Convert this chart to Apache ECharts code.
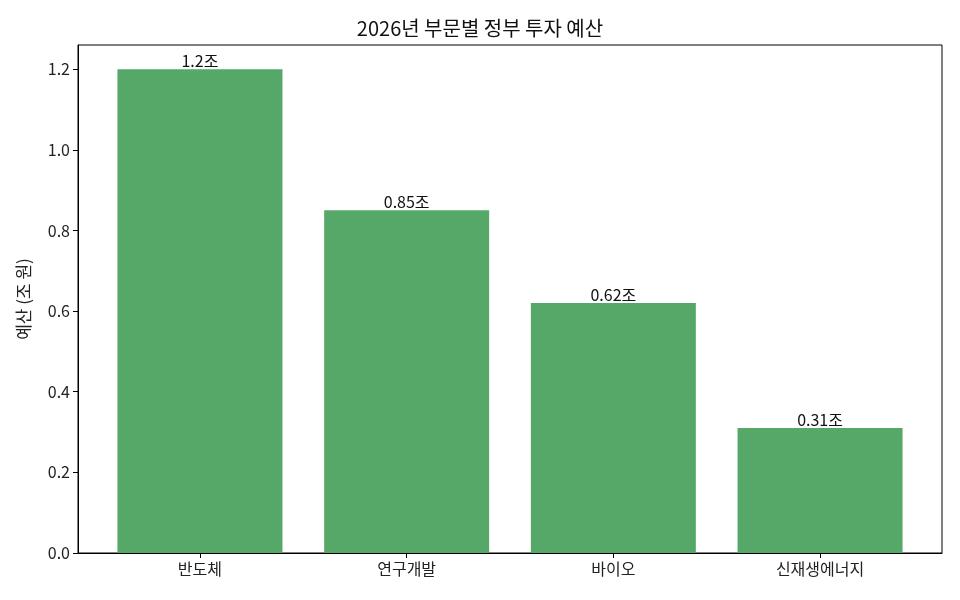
<!DOCTYPE html>
<html><head><meta charset="utf-8">
<script src="https://cdn.jsdelivr.net/npm/echarts@6/dist/echarts.min.js"></script>
<style>html,body{margin:0;padding:0;background:#fff}#c{width:960px;height:600px}</style>
</head><body><div id="c"></div>
<script>
const categories = ['반도체', '연구개발', '바이오', '신재생에너지'];
const values = [1.2, 0.85, 0.62, 0.31];
const yTicks = [0, 0.2, 0.4, 0.6, 0.8, 1.0, 1.2];
const title = '2026년 부문별 정부 투자 예산';
const yName = '예산 (조 원)';
const unit = '조';

const font = '"Noto Sans CJK KR", "Noto Sans", sans-serif';
const chart = echarts.init(document.getElementById('c'));
chart.setOption({
  animation: false,
  title: { text: title, left: 'center', top: 13, textStyle: { fontFamily: font, fontSize: 20, fontWeight: 'normal', color: '#111' } },
  grid: { left: 78, right: 18, top: 45, bottom: 47, show: true, borderColor: '#000', borderWidth: 1, backgroundColor: 'transparent' },
  xAxis: {
    type: 'value', min: -0.59, max: 3.59,
    splitLine: { show: false },
    axisLine: { show: true, onZero: false, lineStyle: { color: '#000' } },
    axisTick: { show: true, customValues: categories.map((c, i) => i), length: 5, lineStyle: { color: '#000' } },
    axisLabel: { customValues: categories.map((c, i) => i), formatter: v => categories[Math.round(v)], fontFamily: font, fontSize: 16, color: '#222', margin: 8 }
  },
  yAxis: {
    type: 'value', min: 0, max: 1.26,
    name: yName, nameLocation: 'middle', nameGap: 46, nameRotate: 90,
    nameTextStyle: { fontFamily: font, fontSize: 17, color: '#222' },
    splitLine: { show: false },
    axisLine: { show: true, onZero: false, lineStyle: { color: '#000' } },
    axisTick: { show: true, customValues: yTicks, length: 5, lineStyle: { color: '#000' } },
    axisLabel: { customValues: yTicks, formatter: v => v.toFixed(1), fontFamily: font, fontSize: 16, color: '#222', margin: 8 }
  },
  series: [{
    type: 'bar',
    data: values.map((v, i) => [i, v]),
    barWidth: 165,
    itemStyle: { color: '#55A868' },
    label: { show: true, position: 'top', distance: 0, formatter: p => p.value[1] + unit, fontFamily: font, fontSize: 16, color: '#111' }
  }]
});
</script></body></html>
